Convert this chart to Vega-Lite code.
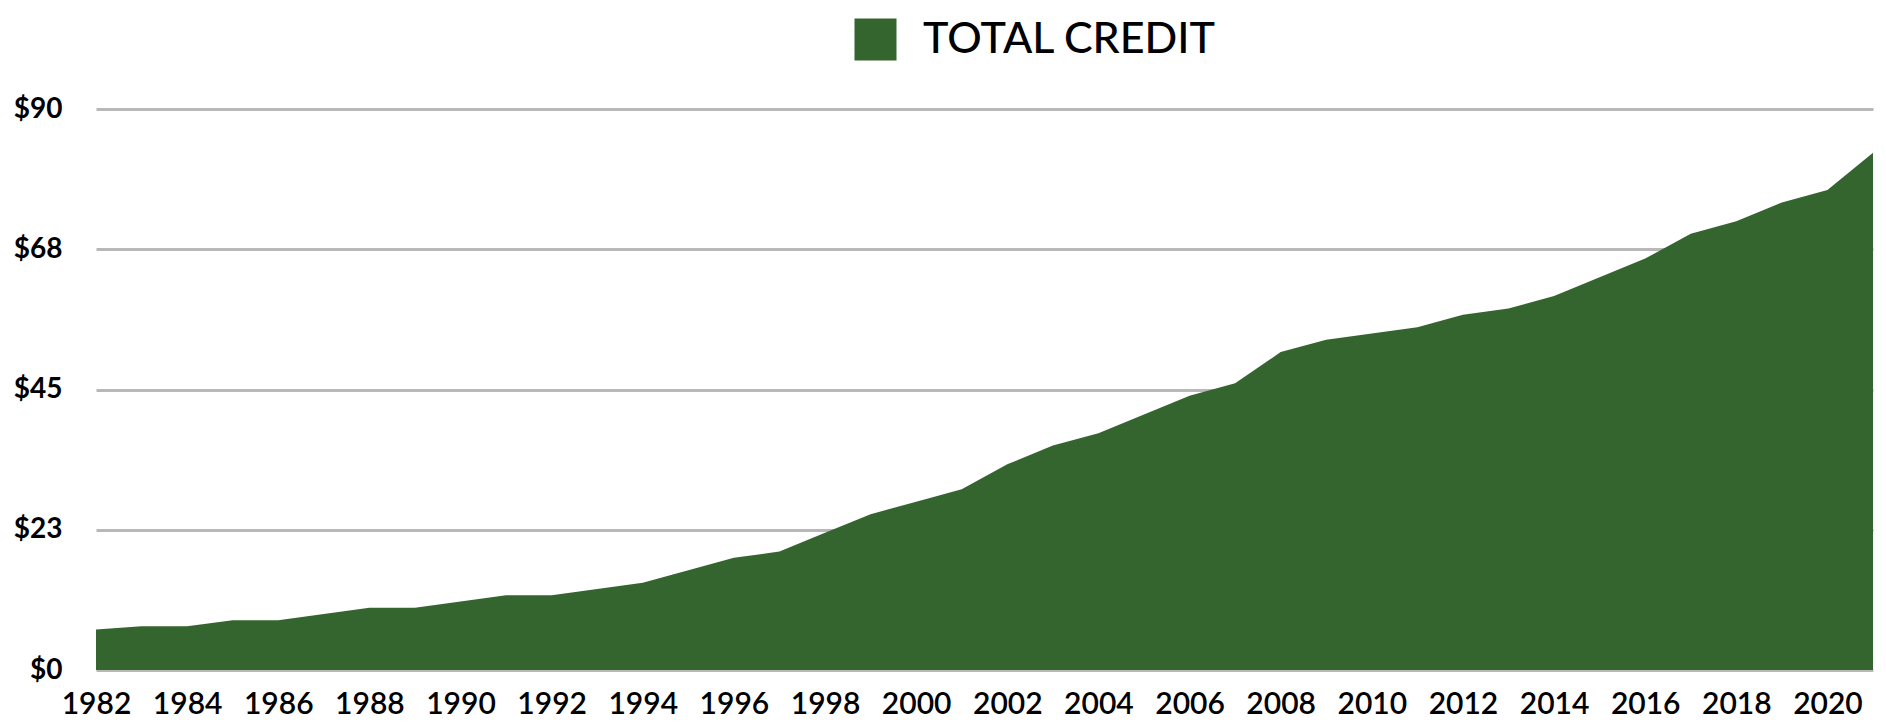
{
  "$schema": "https://vega.github.io/schema/vega-lite/v6.json",
  "autosize": {"type": "none"},
  "padding": {"left": 96, "top": 109, "right": 13, "bottom": 52},
  "width": 1777,
  "height": 561,
  "background": "white",
  "config": {"view": {"stroke": null}},
  "data": {"values": [
    {"year": 1982, "value": 6.5, "series": "TOTAL CREDIT"},
    {"year": 1983, "value": 7, "series": "TOTAL CREDIT"},
    {"year": 1984, "value": 7, "series": "TOTAL CREDIT"},
    {"year": 1985, "value": 8, "series": "TOTAL CREDIT"},
    {"year": 1986, "value": 8, "series": "TOTAL CREDIT"},
    {"year": 1987, "value": 9, "series": "TOTAL CREDIT"},
    {"year": 1988, "value": 10, "series": "TOTAL CREDIT"},
    {"year": 1989, "value": 10, "series": "TOTAL CREDIT"},
    {"year": 1990, "value": 11, "series": "TOTAL CREDIT"},
    {"year": 1991, "value": 12, "series": "TOTAL CREDIT"},
    {"year": 1992, "value": 12, "series": "TOTAL CREDIT"},
    {"year": 1993, "value": 13, "series": "TOTAL CREDIT"},
    {"year": 1994, "value": 14, "series": "TOTAL CREDIT"},
    {"year": 1995, "value": 16, "series": "TOTAL CREDIT"},
    {"year": 1996, "value": 18, "series": "TOTAL CREDIT"},
    {"year": 1997, "value": 19, "series": "TOTAL CREDIT"},
    {"year": 1998, "value": 22, "series": "TOTAL CREDIT"},
    {"year": 1999, "value": 25, "series": "TOTAL CREDIT"},
    {"year": 2000, "value": 27, "series": "TOTAL CREDIT"},
    {"year": 2001, "value": 29, "series": "TOTAL CREDIT"},
    {"year": 2002, "value": 33, "series": "TOTAL CREDIT"},
    {"year": 2003, "value": 36, "series": "TOTAL CREDIT"},
    {"year": 2004, "value": 38, "series": "TOTAL CREDIT"},
    {"year": 2005, "value": 41, "series": "TOTAL CREDIT"},
    {"year": 2006, "value": 44, "series": "TOTAL CREDIT"},
    {"year": 2007, "value": 46, "series": "TOTAL CREDIT"},
    {"year": 2008, "value": 51, "series": "TOTAL CREDIT"},
    {"year": 2009, "value": 53, "series": "TOTAL CREDIT"},
    {"year": 2010, "value": 54, "series": "TOTAL CREDIT"},
    {"year": 2011, "value": 55, "series": "TOTAL CREDIT"},
    {"year": 2012, "value": 57, "series": "TOTAL CREDIT"},
    {"year": 2013, "value": 58, "series": "TOTAL CREDIT"},
    {"year": 2014, "value": 60, "series": "TOTAL CREDIT"},
    {"year": 2015, "value": 63, "series": "TOTAL CREDIT"},
    {"year": 2016, "value": 66, "series": "TOTAL CREDIT"},
    {"year": 2017, "value": 70, "series": "TOTAL CREDIT"},
    {"year": 2018, "value": 72, "series": "TOTAL CREDIT"},
    {"year": 2019, "value": 75, "series": "TOTAL CREDIT"},
    {"year": 2020, "value": 77, "series": "TOTAL CREDIT"},
    {"year": 2021, "value": 83, "series": "TOTAL CREDIT"}
  ]},
  "mark": {"type": "area", "opacity": 1},
  "encoding": {
    "x": {
      "field": "year", "type": "quantitative",
      "scale": {"domain": [1982, 2021], "nice": false, "zero": false},
      "axis": {
        "title": null, "grid": false, "domain": false, "ticks": false,
        "values": [1982,1984,1986,1988,1990,1992,1994,1996,1998,2000,2002,2004,2006,2008,2010,2012,2014,2016,2018,2020],
        "format": "d", "labelFont": "Lato", "labelFontSize": 30, "labelFontWeight": 600,
        "labelColor": "#000000", "labelPadding": 19, "labelFlush": false, "labelOverlap": false
      }
    },
    "y": {
      "field": "value", "type": "quantitative",
      "scale": {"domain": [0, 90], "nice": false},
      "axis": {
        "title": null, "domain": false, "ticks": false,
        "values": [0, 22.5, 45, 67.5, 90],
        "format": "$.0f",
        "gridColor": "#B8B8B8", "gridWidth": 3,
        "labelFont": "Lato", "labelFontSize": 28, "labelFontWeight": "bold",
        "labelColor": "#000000", "labelPadding": 34
      }
    },
    "color": {
      "field": "series", "type": "nominal",
      "scale": {"range": ["#35652F"]},
      "legend": {
        "title": null, "orient": "none", "legendX": 758, "legendY": -91,
        "symbolType": "square", "symbolSize": 1764, "symbolOpacity": 1,
        "symbolStrokeWidth": 0,
        "labelFont": "Lato", "labelFontSize": 43, "labelFontWeight": 500, "labelColor": "#000000",
        "labelOffset": 26, "labelLimit": 600
      }
    }
  }
}
